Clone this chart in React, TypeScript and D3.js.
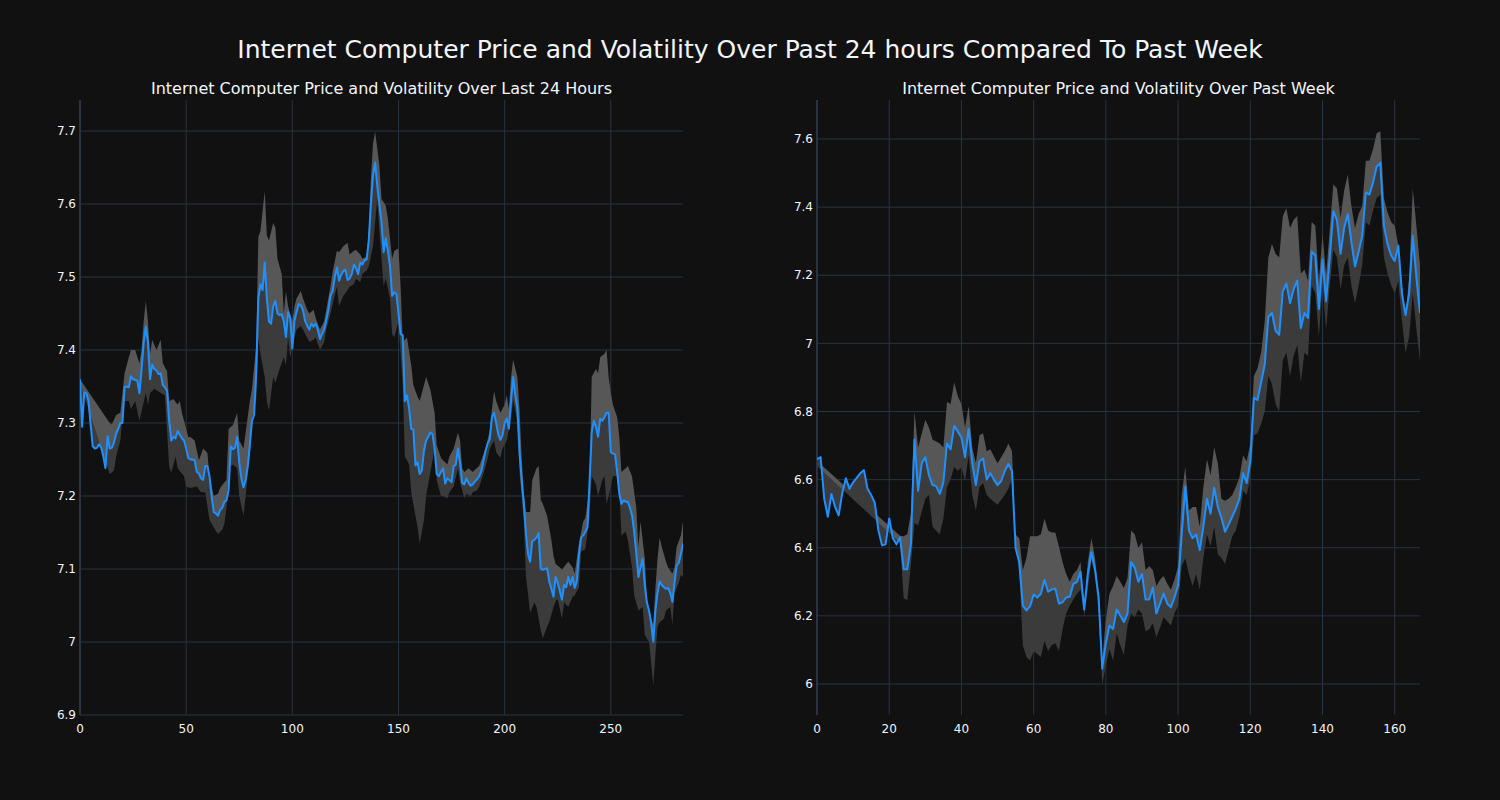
import React from 'react';
import * as d3 from 'd3';

// ---------- DATA ----------
const leftPrice: number[] = [
  7.36, 7.295, 7.342, 7.341, 7.33, 7.298, 7.268, 7.265, 7.266, 7.271,
  7.266, 7.254, 7.238, 7.282, 7.265, 7.266, 7.273, 7.285, 7.292, 7.30,
  7.30, 7.349, 7.35, 7.349, 7.364, 7.36, 7.359, 7.358, 7.341, 7.374,
  7.41, 7.432, 7.41, 7.36, 7.38, 7.374, 7.372, 7.367, 7.368, 7.352,
  7.349, 7.344, 7.303, 7.276, 7.281, 7.279, 7.289, 7.284, 7.279, 7.276,
  7.265, 7.252, 7.25, 7.25, 7.249, 7.233, 7.231, 7.224, 7.222, 7.241,
  7.241, 7.227, 7.20, 7.178, 7.176, 7.173, 7.181, 7.184, 7.192, 7.194,
  7.208, 7.268, 7.264, 7.266, 7.281, 7.246, 7.224, 7.212, 7.222, 7.241,
  7.27, 7.303, 7.311, 7.37, 7.471, 7.49, 7.482, 7.52, 7.47, 7.439,
  7.436, 7.46, 7.467, 7.45, 7.448, 7.449, 7.439, 7.418, 7.452, 7.444,
  7.402, 7.44, 7.452, 7.463, 7.461, 7.455, 7.44, 7.433, 7.428, 7.436,
  7.432, 7.436, 7.428, 7.415, 7.422, 7.428, 7.441, 7.455, 7.475, 7.48,
  7.50, 7.513, 7.495, 7.503, 7.508, 7.51, 7.496, 7.498, 7.504, 7.517,
  7.512, 7.504, 7.52, 7.517, 7.523, 7.524, 7.55, 7.60, 7.64, 7.657,
  7.625, 7.60, 7.575, 7.534, 7.553, 7.536, 7.515, 7.474, 7.479, 7.477,
  7.45, 7.422, 7.42, 7.33, 7.338, 7.32, 7.292, 7.291, 7.242, 7.246,
  7.23, 7.235, 7.262, 7.276, 7.281, 7.287, 7.285, 7.265, 7.23, 7.227,
  7.233, 7.238, 7.217, 7.224, 7.222, 7.219, 7.241, 7.243, 7.265, 7.245,
  7.218, 7.216, 7.224, 7.218, 7.214, 7.216, 7.22, 7.223, 7.227, 7.234,
  7.248, 7.262, 7.272, 7.278, 7.308, 7.314, 7.30, 7.284, 7.277, 7.283,
  7.30, 7.306, 7.292, 7.33, 7.363, 7.338, 7.32, 7.26, 7.222, 7.19,
  7.15, 7.12, 7.11, 7.138, 7.14, 7.143, 7.149, 7.10, 7.099, 7.10,
  7.101, 7.083, 7.073, 7.062, 7.089, 7.081, 7.07, 7.058, 7.078, 7.075,
  7.089, 7.078, 7.089, 7.074, 7.083, 7.12, 7.143, 7.146, 7.151, 7.157,
  7.22, 7.287, 7.303, 7.295, 7.281, 7.306, 7.303, 7.308, 7.314, 7.314,
  7.26, 7.258, 7.257, 7.233, 7.203, 7.189, 7.194, 7.192, 7.192, 7.184,
  7.173, 7.151, 7.121, 7.089, 7.102, 7.114, 7.078, 7.054, 7.043, 7.026,
  7.0, 7.043, 7.067, 7.083, 7.078, 7.075, 7.073, 7.074, 7.067, 7.055,
  7.081, 7.105, 7.108, 7.121, 7.135,
];

const leftUpper: [number, number][] = [
  [0, 7.36], [14, 7.30], [15, 7.298], [17, 7.311], [19, 7.314], [21, 7.368], [23, 7.39], [24, 7.40],
  [26, 7.40], [28, 7.382], [29, 7.401], [30, 7.439], [31, 7.467], [32, 7.439], [33, 7.395], [34, 7.414],
  [36, 7.40], [38, 7.414], [39, 7.382], [41, 7.371], [42, 7.33], [44, 7.333], [46, 7.325], [47, 7.33],
  [48, 7.314], [50, 7.292], [51, 7.281], [52, 7.281], [54, 7.276], [56, 7.249], [58, 7.265], [59, 7.262],
  [60, 7.259], [61, 7.227], [63, 7.2], [65, 7.203], [66, 7.211], [68, 7.219], [69, 7.222], [70, 7.292],
  [72, 7.297], [74, 7.314], [75, 7.276], [77, 7.265], [80, 7.33], [81, 7.347], [83, 7.406], [84, 7.555],
  [85, 7.563], [87, 7.618], [88, 7.557], [89, 7.55], [91, 7.574], [92, 7.568], [93, 7.525], [95, 7.504],
  [96, 7.45], [97, 7.48], [98, 7.46], [100, 7.439], [101, 7.46], [102, 7.471], [104, 7.481], [105, 7.471],
  [107, 7.455], [108, 7.45], [110, 7.455], [111, 7.444], [113, 7.428], [115, 7.439], [116, 7.455], [118, 7.488],
  [119, 7.507], [121, 7.536], [122, 7.534], [124, 7.542], [126, 7.547], [127, 7.531], [129, 7.536], [130, 7.537],
  [132, 7.531], [133, 7.525], [135, 7.528], [136, 7.563], [137, 7.634], [138, 7.683], [139, 7.699], [141, 7.653],
  [142, 7.607], [144, 7.598], [145, 7.58], [147, 7.525], [148, 7.536], [150, 7.539], [151, 7.487], [152, 7.411],
  [154, 7.417], [156, 7.379], [157, 7.352], [159, 7.336], [160, 7.33], [162, 7.352], [163, 7.363], [165, 7.346],
  [167, 7.314], [168, 7.27], [170, 7.252], [171, 7.249], [173, 7.243], [174, 7.254], [176, 7.265], [178, 7.287],
  [179, 7.276], [180, 7.238], [181, 7.233], [183, 7.238], [185, 7.233], [186, 7.236], [188, 7.241], [189, 7.249],
  [191, 7.265], [193, 7.29], [194, 7.319], [195, 7.344], [196, 7.33], [198, 7.314], [200, 7.325], [201, 7.338],
  [202, 7.319], [203, 7.363], [204, 7.387], [206, 7.363], [207, 7.319], [208, 7.254], [209, 7.205], [210, 7.178],
  [212, 7.178], [213, 7.222], [215, 7.238], [216, 7.241], [217, 7.195], [218, 7.189], [220, 7.173], [222, 7.14],
  [223, 7.118], [224, 7.107], [226, 7.102], [227, 7.099], [229, 7.107], [230, 7.11], [232, 7.102], [233, 7.094],
  [235, 7.135], [237, 7.165], [238, 7.17], [240, 7.211], [241, 7.363], [243, 7.374], [244, 7.368], [245, 7.39],
  [247, 7.395], [248, 7.40], [249, 7.363], [250, 7.341], [251, 7.325], [253, 7.308], [254, 7.281], [255, 7.233],
  [257, 7.238], [258, 7.241], [260, 7.227], [262, 7.184], [263, 7.13], [264, 7.165], [266, 7.114], [267, 7.059],
  [269, 7.032], [270, 7.024], [271, 7.073], [272, 7.114], [273, 7.143], [274, 7.13], [276, 7.11], [277, 7.102],
  [279, 7.094], [280, 7.102], [281, 7.13], [283, 7.146], [284, 7.165],
];

const leftLower: [number, number][] = [
  [0, 7.355], [14, 7.23], [16, 7.235], [17, 7.254], [19, 7.276], [20, 7.308], [21, 7.33], [23, 7.33],
  [24, 7.319], [26, 7.33], [28, 7.303], [29, 7.316], [31, 7.341], [32, 7.325], [33, 7.341], [35, 7.347],
  [38, 7.341], [40, 7.338], [42, 7.24], [43, 7.232], [45, 7.254], [46, 7.238], [49, 7.227], [50, 7.213],
  [52, 7.211], [55, 7.213], [57, 7.205], [59, 7.205], [61, 7.167], [63, 7.157], [65, 7.148], [67, 7.154],
  [68, 7.162], [69, 7.184], [70, 7.238], [72, 7.243], [74, 7.238], [75, 7.2], [77, 7.173], [78, 7.2],
  [80, 7.254], [81, 7.308], [83, 7.33], [84, 7.417], [85, 7.395], [87, 7.363], [88, 7.33], [89, 7.317],
  [91, 7.363], [92, 7.355], [94, 7.374], [96, 7.39], [97, 7.379], [98, 7.417], [99, 7.39], [101, 7.417],
  [102, 7.428], [104, 7.433], [105, 7.428], [107, 7.417], [108, 7.411], [110, 7.414], [111, 7.417], [113, 7.40],
  [115, 7.411], [116, 7.428], [118, 7.45], [119, 7.463], [121, 7.487], [122, 7.46], [124, 7.474], [126, 7.482],
  [127, 7.487], [129, 7.49], [130, 7.498], [132, 7.493], [133, 7.504], [135, 7.509], [136, 7.515], [138, 7.542],
  [140, 7.607], [141, 7.563], [143, 7.487], [144, 7.498], [146, 7.471], [147, 7.422], [148, 7.417], [150, 7.439],
  [152, 7.352], [153, 7.254], [155, 7.243], [156, 7.205], [159, 7.157], [160, 7.135], [162, 7.167], [163, 7.2],
  [165, 7.232], [167, 7.265], [168, 7.222], [170, 7.2], [171, 7.2], [173, 7.197], [174, 7.205], [176, 7.213],
  [178, 7.238], [179, 7.219], [181, 7.197], [182, 7.203], [184, 7.2], [185, 7.205], [187, 7.208], [188, 7.213],
  [190, 7.23], [192, 7.251], [193, 7.265], [195, 7.276], [196, 7.26], [198, 7.252], [199, 7.265], [201, 7.276],
  [203, 7.308], [204, 7.33], [206, 7.303], [207, 7.232], [209, 7.167], [210, 7.091], [212, 7.04], [214, 7.054],
  [215, 7.048], [217, 7.016], [218, 7.005], [220, 7.021], [221, 7.027], [223, 7.048], [224, 7.056], [225, 7.059],
  [227, 7.032], [228, 7.054], [230, 7.048], [232, 7.062], [233, 7.064], [235, 7.075], [236, 7.124], [238, 7.127],
  [240, 7.173], [241, 7.227], [243, 7.216], [244, 7.2], [246, 7.222], [247, 7.227], [248, 7.189], [249, 7.2],
  [251, 7.227], [253, 7.227], [254, 7.211], [255, 7.146], [257, 7.151], [258, 7.14], [260, 7.102], [261, 7.064],
  [263, 7.043], [265, 7.048], [266, 7.01], [268, 7.0], [269, 6.972], [270, 6.94], [271, 6.983], [272, 7.021],
  [273, 7.027], [275, 7.032], [276, 7.043], [278, 7.048], [279, 7.024], [280, 7.067], [282, 7.081], [283, 7.092],
  [284, 7.089],
];

const rightPrice: number[] = [
  6.66, 6.666, 6.544, 6.491, 6.558, 6.52, 6.495, 6.561, 6.604, 6.573,
  6.592, 6.605, 6.619, 6.628, 6.573, 6.555, 6.532, 6.451, 6.407, 6.41,
  6.486, 6.428, 6.41, 6.43, 6.337, 6.337, 6.41, 6.718, 6.567, 6.648,
  6.666, 6.613, 6.584, 6.581, 6.558, 6.592, 6.706, 6.689, 6.758, 6.741,
  6.724, 6.666, 6.749, 6.648, 6.584, 6.654, 6.662, 6.6, 6.619, 6.6,
  6.584, 6.596, 6.625, 6.646, 6.625, 6.399, 6.358, 6.23, 6.216, 6.228,
  6.263, 6.254, 6.265, 6.306, 6.271, 6.277, 6.28, 6.236, 6.24, 6.254,
  6.256, 6.294, 6.3, 6.329, 6.219, 6.323, 6.387, 6.335, 6.254, 6.045,
  6.12, 6.172, 6.161, 6.219, 6.201, 6.182, 6.207, 6.358, 6.341, 6.3,
  6.323, 6.248, 6.248, 6.283, 6.207, 6.236, 6.265, 6.236, 6.225, 6.254,
  6.289, 6.439, 6.579, 6.451, 6.428, 6.439, 6.393, 6.462, 6.544, 6.5,
  6.576, 6.52, 6.488, 6.447, 6.468, 6.491, 6.515, 6.544, 6.619, 6.59,
  6.654, 6.84, 6.834, 6.886, 6.938, 7.078, 7.089, 7.037, 7.025, 7.153,
  7.176, 7.118, 7.159, 7.184, 7.045, 7.089, 7.075, 7.269, 7.258, 7.101,
  7.246, 7.124, 7.252, 7.388, 7.362, 7.263, 7.339, 7.379, 7.298, 7.226,
  7.269, 7.316, 7.443, 7.437, 7.472, 7.519, 7.53, 7.345, 7.292, 7.258,
  7.242, 7.287, 7.147, 7.083, 7.147, 7.316, 7.194, 7.089,
];

const rightUpper: [number, number][] = [
  [0, 6.655], [23, 6.435], [24, 6.434], [25, 6.44], [26, 6.5], [27, 6.8], [28, 6.694], [30, 6.776],
  [31, 6.753], [32, 6.718], [34, 6.706], [35, 6.694], [36, 6.828], [37, 6.822], [38, 6.886], [39, 6.845],
  [40, 6.822], [41, 6.753], [42, 6.816], [43, 6.694], [44, 6.648], [45, 6.73], [46, 6.736], [47, 6.683],
  [48, 6.689], [50, 6.648], [52, 6.683], [53, 6.706], [54, 6.683], [55, 6.439], [56, 6.428], [57, 6.335],
  [58, 6.37], [59, 6.434], [61, 6.434], [62, 6.44], [63, 6.486], [64, 6.451], [65, 6.445], [66, 6.445],
  [67, 6.404], [68, 6.358], [69, 6.323], [70, 6.3], [71, 6.323], [72, 6.335], [73, 6.358], [74, 6.196],
  [75, 6.358], [76, 6.428], [77, 6.37], [78, 6.265], [79, 6.068], [80, 6.19], [81, 6.265], [82, 6.288],
  [83, 6.317], [84, 6.3], [85, 6.282], [86, 6.311], [87, 6.451], [88, 6.44], [89, 6.399], [90, 6.416],
  [91, 6.335], [92, 6.346], [93, 6.335], [94, 6.288], [95, 6.306], [96, 6.317], [97, 6.294], [98, 6.277],
  [99, 6.306], [100, 6.346], [101, 6.555], [102, 6.637], [103, 6.509], [104, 6.52], [105, 6.52], [106, 6.462],
  [107, 6.578], [108, 6.66], [109, 6.613], [110, 6.695], [111, 6.648], [112, 6.544], [113, 6.538], [114, 6.544],
  [115, 6.555], [116, 6.578], [117, 6.607], [118, 6.671], [119, 6.654], [120, 6.706], [121, 6.904], [122, 6.927],
  [123, 6.973], [124, 7.066], [125, 7.252], [126, 7.292], [127, 7.263], [128, 7.252], [129, 7.374], [130, 7.397],
  [131, 7.339], [132, 7.362], [133, 7.374], [134, 7.205], [135, 7.217], [136, 7.183], [137, 7.356], [138, 7.345],
  [139, 7.18], [140, 7.321], [141, 7.2], [142, 7.333], [143, 7.467], [144, 7.455], [145, 7.368], [146, 7.449],
  [147, 7.496], [148, 7.403], [149, 7.339], [150, 7.38], [151, 7.403], [152, 7.536], [153, 7.536], [154, 7.571],
  [155, 7.617], [156, 7.623], [157, 7.426], [158, 7.385], [159, 7.356], [160, 7.345], [161, 7.287], [162, 7.171],
  [163, 7.083], [164, 7.194], [165, 7.455], [166, 7.345], [167, 7.229],
];

const rightLower: [number, number][] = [
  [0, 6.64], [23, 6.415], [24, 6.252], [25, 6.246], [26, 6.35], [27, 6.473], [28, 6.466], [30, 6.544],
  [31, 6.555], [32, 6.462], [34, 6.439], [35, 6.486], [36, 6.578], [37, 6.601], [38, 6.637], [39, 6.625],
  [40, 6.636], [41, 6.596], [42, 6.671], [43, 6.555], [44, 6.509], [45, 6.578], [46, 6.59], [47, 6.555],
  [48, 6.544], [50, 6.526], [52, 6.555], [53, 6.573], [54, 6.601], [55, 6.416], [56, 6.335], [57, 6.114],
  [58, 6.079], [59, 6.068], [60, 6.097], [62, 6.079], [63, 6.126], [64, 6.097], [65, 6.114], [66, 6.12],
  [67, 6.097], [68, 6.16], [69, 6.207], [70, 6.23], [71, 6.248], [72, 6.265], [73, 6.277], [74, 6.207],
  [75, 6.277], [76, 6.364], [77, 6.323], [78, 6.207], [79, 5.998], [80, 6.056], [81, 6.103], [82, 6.068],
  [83, 6.149], [84, 6.114], [85, 6.085], [86, 6.172], [87, 6.207], [88, 6.196], [89, 6.219], [90, 6.207],
  [91, 6.155], [92, 6.161], [93, 6.178], [94, 6.137], [95, 6.166], [96, 6.196], [97, 6.184], [98, 6.172],
  [99, 6.207], [100, 6.23], [101, 6.346], [102, 6.37], [103, 6.323], [104, 6.288], [105, 6.323], [106, 6.277],
  [107, 6.37], [108, 6.439], [109, 6.404], [110, 6.462], [111, 6.381], [112, 6.37], [113, 6.352], [114, 6.393],
  [115, 6.434], [116, 6.451], [117, 6.492], [118, 6.567], [119, 6.555], [120, 6.602], [121, 6.73], [122, 6.736],
  [123, 6.764], [124, 6.8], [125, 6.904], [126, 6.88], [127, 6.822], [128, 6.8], [129, 6.95], [130, 6.973],
  [131, 6.904], [132, 6.962], [133, 6.996], [134, 6.886], [135, 6.973], [136, 6.962], [137, 7.17], [138, 7.147],
  [139, 7.02], [140, 7.17], [141, 7.04], [142, 7.17], [143, 7.275], [144, 7.252], [145, 7.159], [146, 7.229],
  [147, 7.252], [148, 7.17], [149, 7.118], [150, 7.17], [151, 7.229], [152, 7.356], [153, 7.345], [154, 7.391],
  [155, 7.426], [156, 7.437], [157, 7.252], [158, 7.205], [159, 7.171], [160, 7.147], [161, 7.183], [162, 7.066],
  [163, 6.973], [164, 7.02], [165, 7.147], [166, 7.043], [167, 6.95],
];

const leftXTicks = [0, 50, 100, 150, 200, 250];
const leftYTicks = [6.9, 7, 7.1, 7.2, 7.3, 7.4, 7.5, 7.6, 7.7];
const rightXTicks = [0, 20, 40, 60, 80, 100, 120, 140, 160];
const rightYTicks = [6, 6.2, 6.4, 6.6, 6.8, 7, 7.2, 7.4, 7.6];

const mainTitle = 'Internet Computer Price and Volatility Over Past 24 hours Compared To Past Week';
const leftTitle = 'Internet Computer Price and Volatility Over Last 24 Hours';
const rightTitle = 'Internet Computer Price and Volatility Over Past Week';

// ---------- STYLE ----------
const BG = '#111111';
const GRID = '#283442';
const TEXT = '#f2f5fa';
const LINE = '#1e90ff';
const FILL_UP = '#575757';
const FILL_LO = '#3b3b3b';
const FONT = '"DejaVu Sans", Verdana, sans-serif';

const PLOT_TOP = 100;
const PLOT_BOTTOM = 715;
const PLOT_W = 603;

type PanelProps = {
  id: string;
  left: number;
  title: string;
  price: number[];
  upper: [number, number][];
  lower: [number, number][];
  yDomain: [number, number];
  xTicks: number[];
  yTicks: number[];
};

function Panel({ id, left, title, price, upper, lower, yDomain, xTicks, yTicks }: PanelProps) {
  const x = d3.scaleLinear().domain([0, price.length - 1]).range([left, left + PLOT_W]);
  const y = d3.scaleLinear().domain(yDomain).range([PLOT_BOTTOM, PLOT_TOP]);
  const line = d3.line<[number, number]>().x((d) => x(d[0])).y((d) => y(d[1]));
  const pricePts: [number, number][] = price.map((v, i) => [i, v]);
  const upFill = line([...upper, ...pricePts.slice().reverse()]) + 'Z';
  const loFill = line([...pricePts, ...lower.slice().reverse()]) + 'Z';
  const fmt = (v: number) => String(+v.toFixed(2));
  return (
    <g>
      <defs>
        <clipPath id={`clip-${id}`}>
          <rect x={left} y={PLOT_TOP} width={PLOT_W} height={PLOT_BOTTOM - PLOT_TOP} />
        </clipPath>
      </defs>
      {yTicks.map((t) => (
        <line key={`gy${t}`} x1={left} x2={left + PLOT_W} y1={y(t)} y2={y(t)} stroke={GRID} strokeWidth={1} />
      ))}
      {xTicks.map((t) => (
        <line key={`gx${t}`} x1={x(t)} x2={x(t)} y1={PLOT_TOP} y2={PLOT_BOTTOM} stroke={GRID} strokeWidth={t === 0 ? 2 : 1} />
      ))}
      <g clipPath={`url(#clip-${id})`}>
        <path d={upFill} fill={FILL_UP} stroke="none" />
        <path d={loFill} fill={FILL_LO} stroke="none" />
        <path d={line(pricePts) || ''} fill="none" stroke={LINE} strokeWidth={2} strokeLinejoin="round" />
      </g>
      {yTicks.map((t) => (
        <text key={`ly${t}`} x={left - 4} y={y(t)} dy="0.35em" textAnchor="end" fontSize={12} fill={TEXT} fontFamily={FONT}>
          {fmt(t)}
        </text>
      ))}
      {xTicks.map((t) => (
        <text key={`lx${t}`} x={x(t)} y={733} textAnchor="middle" fontSize={12} fill={TEXT} fontFamily={FONT}>
          {fmt(t)}
        </text>
      ))}
      <text x={left + PLOT_W / 2} y={94} textAnchor="middle" fontSize={16} fill={TEXT} fontFamily={FONT}>
        {title}
      </text>
    </g>
  );
}

export default function App() {
  return (
    <div style={{ position: 'fixed', left: 0, top: 0, width: 1500, height: 800, background: BG }}>
      <svg width={1500} height={800} style={{ display: 'block' }}>
        <rect x={0} y={0} width={1500} height={800} fill={BG} />
        <text x={750} y={58} textAnchor="middle" fontSize={25} fill={TEXT} fontFamily={FONT}>
          {mainTitle}
        </text>
        <Panel
          id="l"
          left={80}
          title={leftTitle}
          price={leftPrice}
          upper={leftUpper}
          lower={leftLower}
          yDomain={[6.9, 7.7425]}
          xTicks={leftXTicks}
          yTicks={leftYTicks}
        />
        <Panel
          id="r"
          left={817}
          title={rightTitle}
          price={rightPrice}
          upper={rightUpper}
          lower={rightLower}
          yDomain={[5.909, 7.7145]}
          xTicks={rightXTicks}
          yTicks={rightYTicks}
        />
      </svg>
    </div>
  );
}
